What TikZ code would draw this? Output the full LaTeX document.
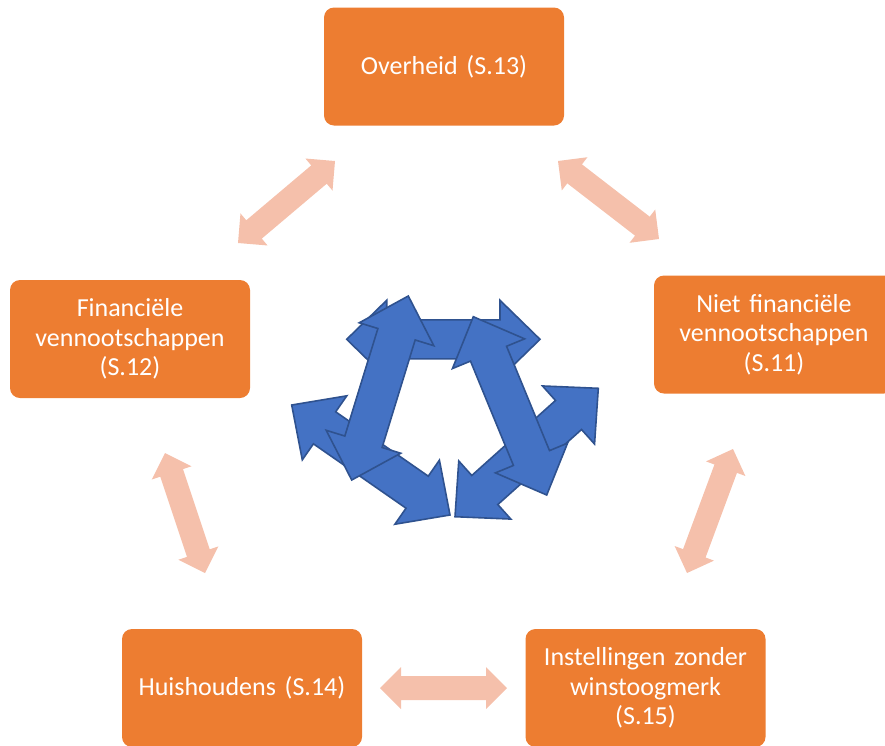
\documentclass[tikz,border=0pt]{standalone}
\usepackage{fontspec}
\setmainfont{Carlito}
\usetikzlibrary{calc}
\definecolor{boxorange}{HTML}{ED7D31}
\definecolor{salmon}{HTML}{F5C0AB}
\definecolor{bluefill}{HTML}{4472C4}
\definecolor{blueline}{HTML}{2F528F}
\newcommand\blockarrow[6]{% style, A, B, shaft half width, head length, head half width
  \path[#1] (#2)
    -- ($($(#2)!#5!(#3)$)!#6!90:(#3)$)
    -- ($($(#2)!#5!(#3)$)!#4!90:(#3)$)
    -- ($($(#3)!#5!(#2)$)!#4!-90:(#2)$)
    -- ($($(#3)!#5!(#2)$)!#6!-90:(#2)$)
    -- (#3)
    -- ($($(#3)!#5!(#2)$)!#6!90:(#2)$)
    -- ($($(#3)!#5!(#2)$)!#4!90:(#2)$)
    -- ($($(#2)!#5!(#3)$)!#4!-90:(#3)$)
    -- ($($(#2)!#5!(#3)$)!#6!-90:(#3)$)
    -- cycle;}
\tikzset{
  sector/.style={fill=boxorange, rounded corners=10pt, minimum width=240pt,
    minimum height=118pt, inner sep=0pt, text=white, text width=232pt,
    align=center, font=\fontsize{26}{29.3}\selectfont},
  linkarrow/.style={fill=salmon},
  cyclearrow/.style={fill=bluefill, draw=blueline, line width=1.6pt, line join=miter},
}
\begin{document}
\begin{tikzpicture}[x=1pt,y=-1pt]
\useasboundingbox (0,0) rectangle (885,745);
\clip (0,0) rectangle (885,745);
% sector boxes
\node[sector] (s13) at (444,66.5) {Overheid (S.13)};
\node[sector] (s12) at (130,339) {Financiële\\vennootschappen\\(S.12)};
\node[sector] (s11) at (774,334.5) {Niet financiële\\vennootschappen\\(S.11)};
\node[sector] (s14) at (242,688) {Huishoudens (S.14)};
\node[sector] (s15) at (645.5,688) {Instellingen zonder\\winstoogmerk\\(S.15)};
% salmon link arrow end points
\coordinate (tla) at (238,243); \coordinate (tlb) at (335,161);
\coordinate (tra) at (558,161); \coordinate (trb) at (659,239);
\coordinate (la) at (165,453);  \coordinate (lb) at (205,573);
\coordinate (ra) at (733,449);  \coordinate (rb) at (687,573);
\coordinate (ba) at (380,688);  \coordinate (bb) at (507,688);
\blockarrow{linkarrow}{tla}{tlb}{12pt}{21pt}{21pt}
\blockarrow{linkarrow}{tra}{trb}{12pt}{21pt}{21pt}
\blockarrow{linkarrow}{la}{lb}{12pt}{21pt}{21pt}
\blockarrow{linkarrow}{ra}{rb}{12pt}{21pt}{21pt}
\blockarrow{linkarrow}{ba}{bb}{12pt}{21pt}{21pt}
% central cycle of blue arrows
\coordinate (ha) at (346.7,339.3);  \coordinate (hb) at (540,339.3);
\coordinate (lva) at (408.3,296);   \coordinate (lvb) at (351.7,480);
\coordinate (rva) at (473.3,316.7); \coordinate (rvb) at (546.7,495);
\coordinate (bla) at (291.7,405);   \coordinate (blb) at (450,515);
\coordinate (bra) at (598.3,388.3); \coordinate (brb) at (455,516.7);
\blockarrow{cyclearrow}{ha}{hb}{19.5pt}{40pt}{39pt}
\blockarrow{cyclearrow}{bla}{blb}{19.5pt}{40pt}{39pt}
\blockarrow{cyclearrow}{bra}{brb}{19.5pt}{40pt}{39pt}
\blockarrow{cyclearrow}{lva}{lvb}{19.5pt}{40pt}{39pt}
\blockarrow{cyclearrow}{rva}{rvb}{19.5pt}{40pt}{39pt}
\end{tikzpicture}
\end{document}
